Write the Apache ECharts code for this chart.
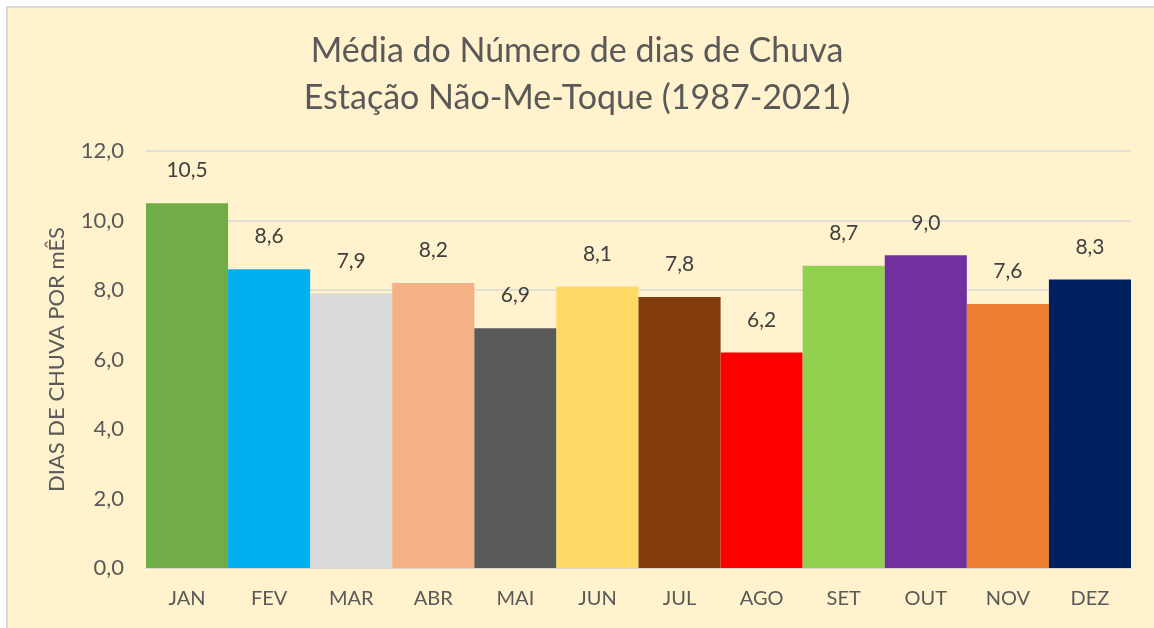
<!DOCTYPE html>
<html>
<head>
<meta charset="utf-8">
<script src="https://cdn.jsdelivr.net/npm/echarts@6/dist/echarts.min.js"></script>
<style>
  body{margin:0;background:#fff;}
  #frame{position:absolute;left:6px;top:6px;width:1160px;height:640px;background:#FFF2CC;
    border-left:2px solid #D9D9D9;border-top:2px solid #D9D9D9;}
  #chart{position:absolute;left:0;top:0;width:1154px;height:628px;}
</style>
</head>
<body>
<div id="frame"></div>
<div id="chart"></div>
<script>
  var meses = ['JAN','FEV','MAR','ABR','MAI','JUN','JUL','AGO','SET','OUT','NOV','DEZ'];
  var diasChuva = [10.5, 8.6, 7.9, 8.2, 6.9, 8.1, 7.8, 6.2, 8.7, 9.0, 7.6, 8.3];
  var cores = ['#70AD47','#00B0F0','#D9D9D9','#F4B183','#595959','#FFD966',
               '#843C0C','#FF0000','#92D050','#7030A0','#ED7D31','#002060'];
  var yTicks = [0, 2, 4, 6, 8, 10, 12];

  var fonte = 'Lato';
  var cinza = '#595959';

  function virgula(v){
    return v.toFixed(1).replace('.', ',');
  }

  var chart = echarts.init(document.getElementById('chart'));
  var options = {
    backgroundColor: 'transparent',
    animation: false,
    textStyle: {fontFamily: fonte},
    title: {
      text: 'Média do Número de dias de Chuva\nEstação Não-Me-Toque (1987-2021)',
      left: 'center',
      top: 23,
      textStyle: {
        fontFamily: fonte,
        fontSize: 34,
        fontWeight: 'normal',
        color: cinza,
        lineHeight: 47
      }
    },
    grid: {left: 146, right: 23, top: 151, bottom: 60},
    xAxis: {
      type: 'category',
      data: meses,
      axisTick: {show: false},
      axisLine: {lineStyle: {color: '#D9D9D9', width: 2}},
      axisLabel: {color: cinza, fontSize: 20, margin: 21, fontFamily: fonte}
    },
    yAxis: {
      type: 'value',
      min: yTicks[0],
      max: yTicks[yTicks.length - 1],
      interval: 2,
      name: 'DIAS DE CHUVA POR mÊS',
      nameLocation: 'middle',
      nameGap: 78,
      nameTextStyle: {color: cinza, fontSize: 22, fontFamily: fonte},
      axisLine: {show: false},
      axisTick: {show: false},
      axisLabel: {color: cinza, fontSize: 22, margin: 22, fontFamily: fonte,
        formatter: function(v){ return virgula(v); }},
      splitLine: {lineStyle: {color: '#D9D9D9', width: 1.5}}
    },
    series: [{
      type: 'bar',
      barCategoryGap: 0,
      data: diasChuva.map(function(v, i){
        return {value: v, itemStyle: {color: cores[i]}};
      }),
      label: {
        show: true,
        position: 'top',
        distance: 22,
        color: '#404040',
        fontSize: 21,
        fontFamily: fonte,
        formatter: function(p){ return virgula(p.value); }
      }
    }]
  };
  chart.setOption(options);
</script>
</body>
</html>
